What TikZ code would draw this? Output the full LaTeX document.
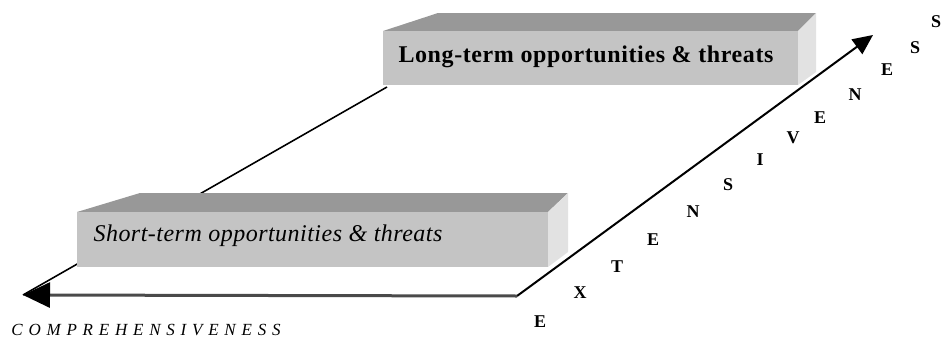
\documentclass[tikz,border=0pt]{standalone}
\usepackage{fontspec}
\setmainfont{Liberation Serif}
\usetikzlibrary{arrows.meta}

\definecolor{boxfront}{HTML}{C4C4C4}
\definecolor{boxtop}{HTML}{989898}
\definecolor{boxside}{HTML}{E2E2E2}
\definecolor{axisgray}{HTML}{4A4A4A}

\tikzset{
  frontface/.style={fill=boxfront},
  topface/.style={fill=boxtop},
  sideface/.style={fill=boxside},
  guide/.style={line width=1.6pt, black},
  axisarrow/.style={line width=2pt},
  longlabel/.style={font=\bfseries\fontsize{24}{26}\selectfont\addfontfeatures{LetterSpace=2.5}, inner sep=0pt},
  shortlabel/.style={font=\itshape\fontsize{24}{26}\selectfont\addfontfeatures{LetterSpace=2}, inner sep=0pt},
  axislabel/.style={font=\itshape\fontsize{17}{19}\selectfont\addfontfeatures{LetterSpace=34}, inner sep=0pt},
  extletter/.style={font=\bfseries\fontsize{18}{20}\selectfont, inner sep=0pt},
}

\begin{document}
\begin{tikzpicture}[x=1pt, y=-1pt]
\useasboundingbox (0,0) rectangle (943,343);

% axes corners
\coordinate (origin) at (517,296);
\coordinate (ctip) at (23,295);
\coordinate (etip) at (873,35);
\coordinate (backlow) at (23,295);
\coordinate (backhigh) at (387,87);

% rear guide line joining the two blocks
\draw[guide] (backlow) -- (backhigh);

% extensiveness axis
\draw[axisarrow, -{Triangle[length=20pt, width=18pt]}] (origin) -- (etip);

% long-term block
\fill[topface] (383,31) -- (438,13) -- (816,13) -- (798,31) -- cycle;
\fill[sideface] (798,31) -- (816,13) -- (816,72) -- (798,85) -- cycle;
\fill[frontface] (383,31) rectangle (798,85);
\node[longlabel] (longterm) at (586,57) {Long-term opportunities \& threats};

% short-term block
\fill[topface] (77,212) -- (140,193) -- (568,193) -- (548,212) -- cycle;
\fill[sideface] (548,212) -- (568,193) -- (568,252) -- (548,267) -- cycle;
\fill[frontface] (77,212) rectangle (548,267);
\node[shortlabel] (shortterm) at (268,236) {Short-term opportunities \& threats};

% comprehensiveness axis
\draw[axisgray, line width=3pt, -{Triangle[length=27pt, width=25pt, color=black, fill=black]}] (origin) -- (ctip);
\node[axislabel] (comp) at (146,330) {COMPREHENSIVENESS};

% spaced lettering along the extensiveness axis
\foreach \ch/\px/\py [count=\i] in {E/540/322, X/580/293, T/617/267, E/653/240, N/693/212,
    S/728/185, I/760/160, V/793/138, E/820/118, N/855/95, E/887/70, S/915/48, S/936/22}
  \node[extletter] (ext\i) at (\px,\py) {\ch};
\end{tikzpicture}
\end{document}
